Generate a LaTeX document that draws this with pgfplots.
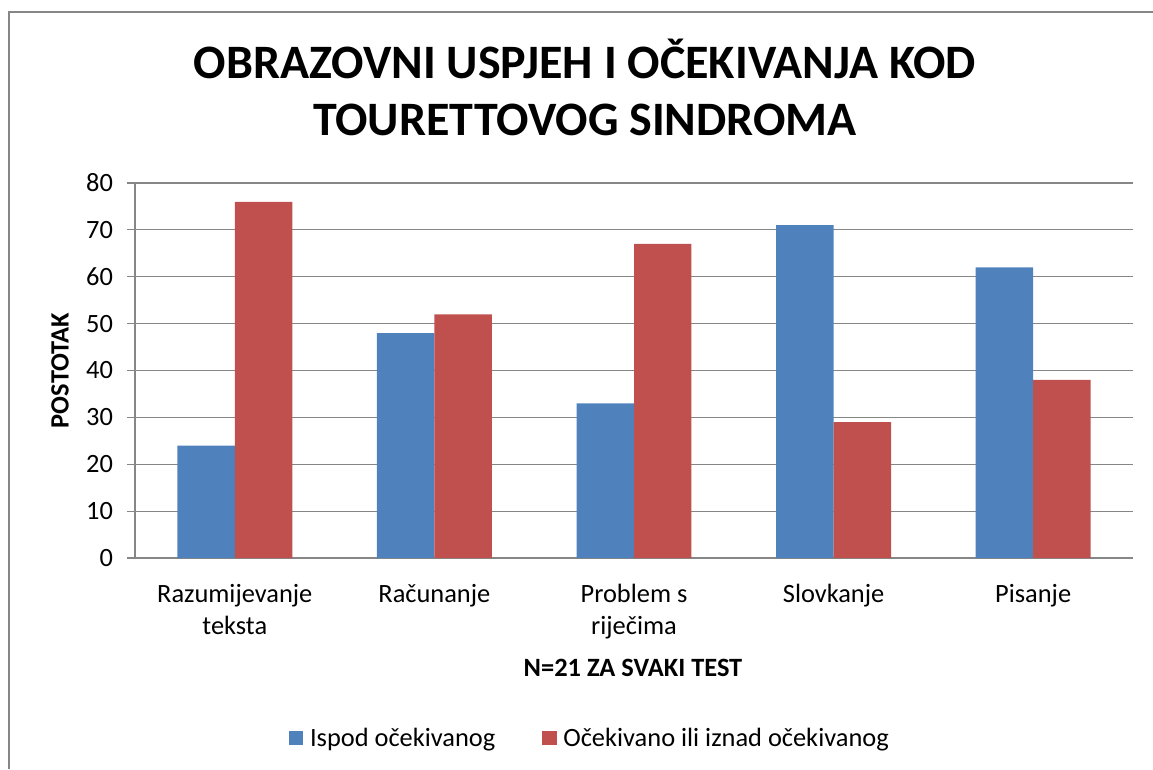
\documentclass[border=0pt]{standalone}
\usepackage{pgfplots}
\pgfplotsset{compat=1.18}
\usepackage{fontspec}
\setmainfont{Carlito}
\definecolor{barblue}{HTML}{4F81BD}
\definecolor{barred}{HTML}{C0504D}
\definecolor{gridgray}{HTML}{868686}
\definecolor{framegray}{HTML}{868686}
\begin{document}
\begin{tikzpicture}
\path[use as bounding box] (0,0) rectangle (1153*0.75pt,-769*0.75pt);
\draw[framegray, line width=1.1pt] (9*0.75pt,-769*0.75pt) -- (9*0.75pt,-12*0.75pt) -- (1153*0.75pt,-12*0.75pt);
\node[anchor=base, font=\fontsize{36}{40}\selectfont\bfseries] at (585*0.75pt,-78*0.75pt) {OBRAZOVNI USPJEH I OČEKIVANJA KOD};
\node[anchor=base, font=\fontsize{36}{40}\selectfont\bfseries] at (585*0.75pt,-135*0.75pt) {TOURETTOVOG SINDROMA};
\begin{axis}[
  at={(135*0.75pt,-558*0.75pt)}, anchor=south west,
  scale only axis, width=748.5pt, height=281.25pt,
  ybar, bar width=0.288,
  xmin=-0.5, xmax=4.5, ymin=0, ymax=80,
  ytick={0,10,...,80},
  xtick={0,1,2,3,4},
  xticklabels={{Razumijevanje\\teksta},{Računanje},{Problem s\\riječima},{Slovkanje},{Pisanje}},
  axis x line*=bottom, axis y line*=left,
  axis line style={draw=gridgray, line width=0.9pt, -},
  ymajorgrids, grid style={draw=gridgray, line width=0.9pt},
  tick align=outside, major tick length=6pt,
  ytick style={draw=gridgray, line width=0.9pt},
  xtick style={draw=none},
  tick label style={font=\fontsize{19.8}{24}\selectfont},
  /pgf/number format/assume math mode=true,
  xticklabel style={align=center, anchor=north, yshift=-10pt},
  yticklabel style={anchor=east, xshift=-7pt},
  xlabel={N=21 ZA SVAKI TEST},
  ylabel={POSTOTAK},
  every axis x label/.style={at={(axis description cs:0.499,-0.3147)}, anchor=base, font=\fontsize{19.8}{24}\selectfont\bfseries},
  every axis y label/.style={at={(axis description cs:-0.075,0.5)}, rotate=90, anchor=center, font=\fontsize{19.8}{24}\selectfont\bfseries},
  legend columns=2,
  legend style={at={(axis description cs:0.456,-0.48)}, anchor=center, draw=none, font=\fontsize{19.8}{24}\selectfont,
    /tikz/every odd column/.append style={column sep=3pt},
    /tikz/every even column/.append style={column sep=33pt}},
  legend image code/.code={\fill[#1] (0pt,-5.5pt) rectangle (11pt,5.5pt);},
]
\addplot[fill=barblue, draw=none, bar shift=-0.144] coordinates {(0,24) (1,48) (2,33) (3,71) (4,62)};
\addplot[fill=barred, draw=none, bar shift=0.144] coordinates {(0,76) (1,52) (2,67) (3,29) (4,38)};
\legend{Ispod očekivanog, Očekivano ili iznad očekivanog}
\end{axis}
\end{tikzpicture}
\end{document}
